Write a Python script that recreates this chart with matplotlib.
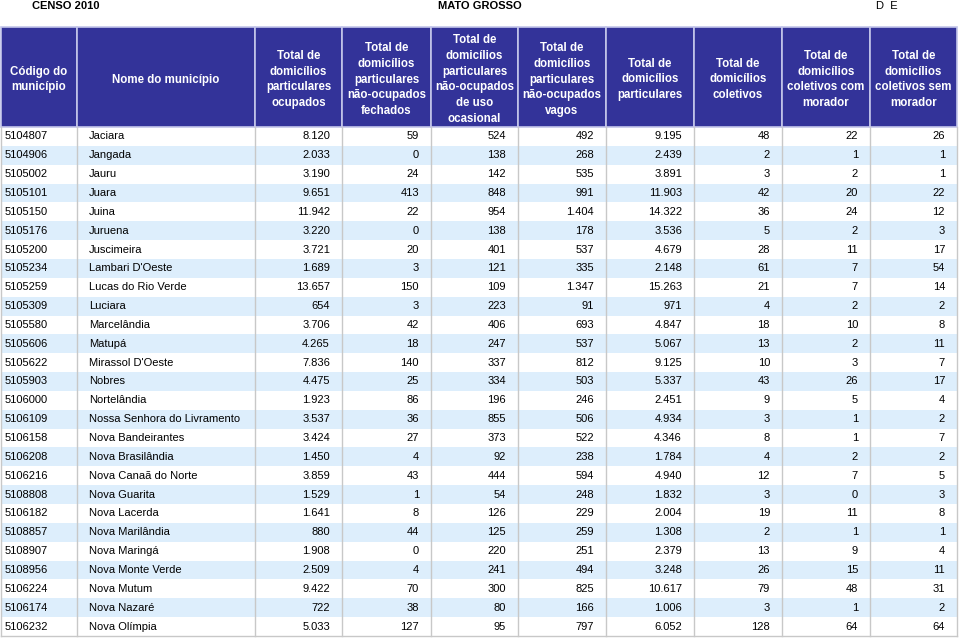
import matplotlib.pyplot as plt
from matplotlib.patches import Rectangle

plt.rcParams['font.family'] = ['Liberation Sans', 'DejaVu Sans']

# table data
headers = [
    "Código do\nmunicípio",
    "Nome do município",
    "Total de\ndomicílios\nparticulares\nocupados",
    "Total de\ndomicílios\nparticulares\nnão-ocupados\nfechados",
    "Total de\ndomicílios\nparticulares\nnão-ocupados\nde uso\nocasional",
    "Total de\ndomicílios\nparticulares\nnão-ocupados\nvagos",
    "Total de\ndomicílios\nparticulares",
    "Total de\ndomicílios\ncoletivos",
    "Total de\ndomicílios\ncoletivos com\nmorador",
    "Total de\ndomicílios\ncoletivos sem\nmorador",
]

codes = ["5104807", "5104906", "5105002", "5105101", "5105150", "5105176", "5105200",
         "5105234", "5105259", "5105309", "5105580", "5105606", "5105622", "5105903",
         "5106000", "5106109", "5106158", "5106208", "5106216", "5108808", "5106182",
         "5108857", "5108907", "5108956", "5106224", "5106174", "5106232"]

names = ["Jaciara", "Jangada", "Jauru", "Juara", "Juina", "Juruena", "Juscimeira",
         "Lambari D'Oeste", "Lucas do Rio Verde", "Luciara", "Marcelândia", "Matupá",
         "Mirassol D'Oeste", "Nobres", "Nortelândia", "Nossa Senhora do Livramento",
         "Nova Bandeirantes", "Nova Brasilândia", "Nova Canaã do Norte", "Nova Guarita",
         "Nova Lacerda", "Nova Marilândia", "Nova Maringá", "Nova Monte Verde",
         "Nova Mutum", "Nova Nazaré", "Nova Olímpia"]

ocupados = [8120, 2033, 3190, 9651, 11942, 3220, 3721, 1689, 13657, 654, 3706, 4265,
            7836, 4475, 1923, 3537, 3424, 1450, 3859, 1529, 1641, 880, 1908, 2509,
            9422, 722, 5033]
fechados = [59, 0, 24, 413, 22, 0, 20, 3, 150, 3, 42, 18, 140, 25, 86, 36, 27, 4, 43,
            1, 8, 44, 0, 4, 70, 38, 127]
ocasional = [524, 138, 142, 848, 954, 138, 401, 121, 109, 223, 406, 247, 337, 334, 196,
             855, 373, 92, 444, 54, 126, 125, 220, 241, 300, 80, 95]
vagos = [492, 268, 535, 991, 1404, 178, 537, 335, 1347, 91, 693, 537, 812, 503, 246,
         506, 522, 238, 594, 248, 229, 259, 251, 494, 825, 166, 797]
particulares = [9195, 2439, 3891, 11903, 14322, 3536, 4679, 2148, 15263, 971, 4847,
                5067, 9125, 5337, 2451, 4934, 4346, 1784, 4940, 1832, 2004, 1308, 2379,
                3248, 10617, 1006, 6052]
coletivos = [48, 2, 3, 42, 36, 5, 28, 61, 21, 4, 18, 13, 10, 43, 9, 3, 8, 4, 12, 3, 19,
             2, 13, 26, 79, 3, 128]
com_morador = [22, 1, 2, 20, 24, 2, 11, 7, 7, 2, 10, 2, 3, 26, 5, 1, 1, 2, 7, 0, 11, 1,
               9, 15, 48, 1, 64]
sem_morador = [26, 1, 1, 22, 12, 3, 17, 54, 14, 2, 8, 11, 7, 17, 4, 2, 7, 2, 5, 3, 8, 1,
               4, 11, 31, 2, 64]

numeric_cols = [ocupados, fechados, ocasional, vagos, particulares, coletivos,
                com_morador, sem_morador]


def fmt(v):
    return f"{v:,}".replace(",", ".")


W, H = 960, 638
fig = plt.figure(figsize=(W / 100, H / 100), dpi=100)
ax = fig.add_axes([0, 0, 1, 1])
ax.set_xlim(0, W)
ax.set_ylim(H, 0)
ax.axis("off")

edges = [1, 77, 255, 342, 431, 518, 606, 694, 782, 870, 957]
head_top, head_bot = 27, 127
row_h = 18.85
n = len(codes)
body_bot = head_bot + n * row_h

# top title line
ax.text(32, 6, "CENSO 2010", fontsize=8, fontweight="bold", va="center", ha="left")
ax.text(480, 6, "MATO GROSSO", fontsize=8, fontweight="bold", va="center", ha="center")
ax.text(876, 6, "D  E", fontsize=8, va="center", ha="left")

# header cells
for i, h in enumerate(headers):
    x0, x1 = edges[i], edges[i + 1]
    ax.add_patch(Rectangle((x0, head_top), x1 - x0, head_bot - head_top,
                           facecolor="#333399", edgecolor="#c4c6ea", lw=1.2))
    ax.text((x0 + x1) / 2, (head_top + head_bot) / 2 + 2.5, h, color="white",
            fontsize=8.3, fontweight="bold", ha="center", va="center",
            linespacing=1.42, multialignment="center")

# body stripes
for r in range(n):
    y0 = head_bot + r * row_h
    if r % 2 == 1:
        ax.add_patch(Rectangle((edges[0], y0), edges[-1] - edges[0], row_h,
                               facecolor="#ddeefc", edgecolor="none"))

# grid lines
for x in edges:
    ax.plot([x, x], [head_bot, body_bot], color="#c8c8c8", lw=1)
ax.plot([edges[0], edges[-1]], [body_bot, body_bot], color="#c8c8c8", lw=1)

# cell text
for r in range(n):
    yc = head_bot + (r + 0.5) * row_h
    ax.text(5, yc, codes[r], fontsize=8, ha="left", va="center")
    ax.text(89, yc, names[r], fontsize=8, ha="left", va="center")
    for j, col in enumerate(numeric_cols):
        ax.text(edges[j + 3] - 12, yc, fmt(col[r]), fontsize=8, ha="right", va="center")

fig.savefig("out.png", dpi=100, facecolor="white")
